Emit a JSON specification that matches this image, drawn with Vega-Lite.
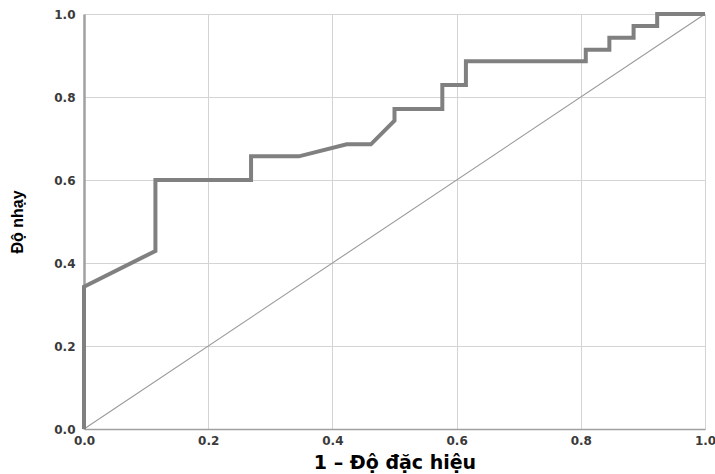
{
  "$schema": "https://vega.github.io/schema/vega-lite/v6.json",
  "width": 621,
  "height": 415,
  "autosize": "none",
  "padding": {"left": 84, "top": 14, "right": 10, "bottom": 45},
  "background": "white",
  "config": {
    "view": {"stroke": null},
    "axis": {
      "grid": true,
      "gridColor": "#d4d4d4",
      "gridWidth": 1,
      "ticks": false,
      "labelFlush": false,
      "labelFont": "DejaVu Sans",
      "labelFontSize": 12,
      "labelFontWeight": 600,
      "labelColor": "#3a3a3a",
      "titleFont": "DejaVu Sans",
      "titleFontWeight": "bold",
      "titleColor": "#000000",
      "domainColor": "#a0a0a0"
    }
  },
  "datasets": {
    "roc": [
      {"order": 0, "fpr": 0.0, "tpr": 0.0},
      {"order": 1, "fpr": 0.0, "tpr": 0.343},
      {"order": 2, "fpr": 0.115, "tpr": 0.429},
      {"order": 3, "fpr": 0.115, "tpr": 0.6},
      {"order": 4, "fpr": 0.269, "tpr": 0.6},
      {"order": 5, "fpr": 0.269, "tpr": 0.657},
      {"order": 6, "fpr": 0.346, "tpr": 0.657},
      {"order": 7, "fpr": 0.423, "tpr": 0.686},
      {"order": 8, "fpr": 0.462, "tpr": 0.686},
      {"order": 9, "fpr": 0.5, "tpr": 0.743},
      {"order": 10, "fpr": 0.5, "tpr": 0.771},
      {"order": 11, "fpr": 0.577, "tpr": 0.771},
      {"order": 12, "fpr": 0.577, "tpr": 0.829},
      {"order": 13, "fpr": 0.615, "tpr": 0.829},
      {"order": 14, "fpr": 0.615, "tpr": 0.886},
      {"order": 15, "fpr": 0.808, "tpr": 0.886},
      {"order": 16, "fpr": 0.808, "tpr": 0.914},
      {"order": 17, "fpr": 0.846, "tpr": 0.914},
      {"order": 18, "fpr": 0.846, "tpr": 0.943},
      {"order": 19, "fpr": 0.885, "tpr": 0.943},
      {"order": 20, "fpr": 0.885, "tpr": 0.971},
      {"order": 21, "fpr": 0.923, "tpr": 0.971},
      {"order": 22, "fpr": 0.923, "tpr": 1.0},
      {"order": 23, "fpr": 1.0, "tpr": 1.0}
    ],
    "diag": [
      {"order": 0, "fpr": 0.0, "tpr": 0.0},
      {"order": 1, "fpr": 1.0, "tpr": 1.0}
    ]
  },
  "layer": [
    {
      "data": {"name": "diag"},
      "mark": {"type": "line", "color": "#9a9a9a", "strokeWidth": 1.1},
      "encoding": {
        "x": {
          "field": "fpr", "type": "quantitative",
          "scale": {"domain": [0, 1], "nice": false},
          "axis": {
            "values": [0, 0.2, 0.4, 0.6, 0.8, 1.0],
            "format": ".1f",
            "labelPadding": 6,
            "domainWidth": 1.5,
            "title": "1 – Độ đặc hiệu",
            "titleFontSize": 19,
            "titleBaseline": "alphabetic",
            "titleX": 310.5,
            "titleY": 39
          }
        },
        "y": {
          "field": "tpr", "type": "quantitative",
          "scale": {"domain": [0, 1], "nice": false},
          "axis": {
            "values": [0, 0.2, 0.4, 0.6, 0.8, 1.0],
            "format": ".1f",
            "labelPadding": 9,
            "domainWidth": 2.5,
            "title": "Độ nhạy",
            "titleFont": "Liberation Sans",
            "titleFontSize": 16,
            "titleBaseline": "middle",
            "titleX": -67,
            "titleY": 207.5
          }
        },
        "order": {"field": "order", "type": "quantitative"}
      }
    },
    {
      "data": {"name": "roc"},
      "mark": {"type": "line", "color": "#808080", "strokeWidth": 4, "strokeJoin": "miter"},
      "encoding": {
        "x": {"field": "fpr", "type": "quantitative"},
        "y": {"field": "tpr", "type": "quantitative"},
        "order": {"field": "order", "type": "quantitative"}
      }
    }
  ]
}
